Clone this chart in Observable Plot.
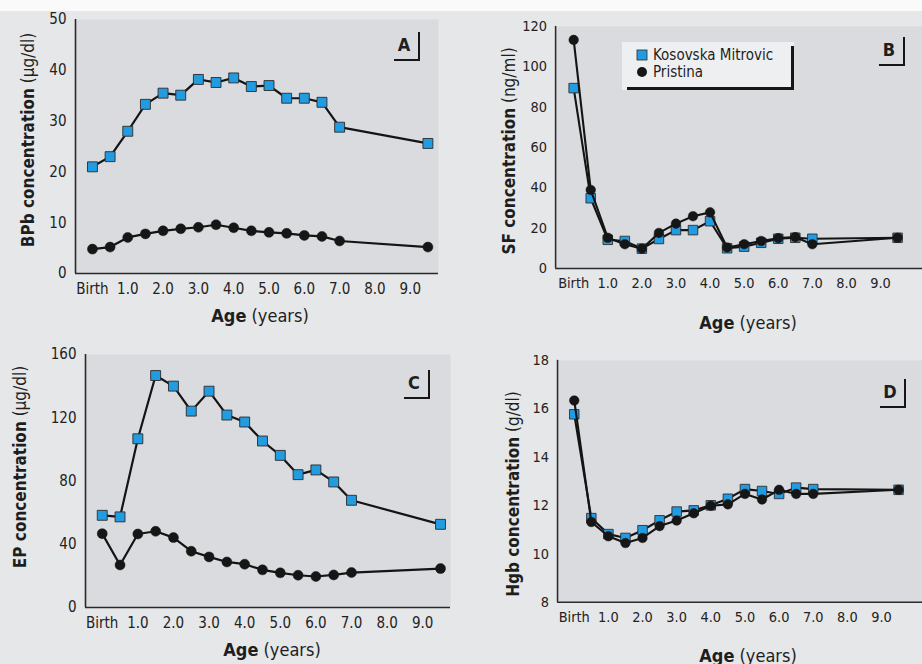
<!DOCTYPE html>
<html>
<head>
<meta charset="utf-8">
<script src="https://cdn.jsdelivr.net/npm/d3@7"></script>
<script src="https://cdn.jsdelivr.net/npm/@observablehq/plot@0.6"></script>
<style>
  body { margin: 0; background: #e7e8ea; }
  #page { position: relative; width: 922px; height: 664px; overflow: hidden; background: #e6e7e9;
          font-family: "Liberation Sans Narrow", "Arial Narrow", "DejaVu Sans Condensed", sans-serif; color: #1e1e1e; }
  .band { position: absolute; left: 0; top: 0; width: 922px; height: 11px; background: #fafafa; }
  .panel { position: absolute; }
  .ytitle { position: absolute; white-space: nowrap; font-size: 17px; transform: translate(-50%, -50%) rotate(-90deg); }
  .xtitle { position: absolute; white-space: nowrap; font-size: 18px; transform: translate(-50%, -50%); }
  .tag { position: absolute; border-right: 2.5px solid #161616; border-bottom: 2.5px solid #161616; box-sizing: border-box; }
  .tag span { position: absolute; font-weight: bold; font-size: 18px; transform: translate(-50%, -50%); }
  .legend { position: absolute; background: #eeeff0; }
  .legend .row { position: absolute; left: 12px; font-size: 15px; white-space: nowrap; display: flex; align-items: center; }
  .legend .bar-r { position: absolute; background: #161616; }
</style>
</head>
<body>
<div id="page"><div class="band"></div></div>
<script>
// ---------------- data ----------------
const ages = [0, 0.5, 1, 1.5, 2, 2.5, 3, 3.5, 4, 4.5, 5, 5.5, 6, 6.5, 7, 9.5];
const seriesNames = ["Kosovska Mitrovic", "Pristina"];
const xTickValues = [0, 1, 2, 3, 4, 5, 6, 7, 8, 9];
const xTickLabels = ["Birth", "1.0", "2.0", "3.0", "4.0", "5.0", "6.0", "7.0", "8.0", "9.0"];

const bpbKM = [21, 23, 28, 33.3, 35.5, 35.1, 38.2, 37.6, 38.5, 36.8, 37, 34.5, 34.5, 33.7, 28.8, 25.6];
const bpbPR = [4.8, 5.2, 7.1, 7.8, 8.4, 8.8, 9.1, 9.6, 9.0, 8.4, 8.1, 7.9, 7.5, 7.3, 6.4, 5.2];
const sfKM  = [89.4, 34.8, 14.2, 13.6, 9.8, 14.6, 19, 19, 23.4, 10, 10.8, 12.7, 14.7, 15.2, 14.7, 15.2];
const sfPR  = [113.3, 38.9, 15.2, 12, 9.8, 17.6, 22.2, 25.9, 27.8, 10.4, 12, 13.6, 15, 15.5, 12, 15.2];
const epKM  = [58.3, 57.3, 106.7, 146.7, 140, 124.2, 136.8, 121.7, 117.3, 105.3, 96.2, 84, 87, 79.4, 67.8, 52.6];
const epPR  = [46.7, 26.9, 46.5, 48.2, 44.2, 35.6, 32, 28.8, 27.4, 23.8, 21.9, 20.4, 19.6, 20.6, 22.1, 24.6];
const hgbKM = [15.77, 11.48, 10.82, 10.66, 10.98, 11.39, 11.75, 11.8, 12.01, 12.28, 12.68, 12.6, 12.48, 12.74, 12.68, 12.65];
const hgbPR = [16.34, 11.32, 10.73, 10.45, 10.66, 11.15, 11.38, 11.68, 11.99, 12.05, 12.48, 12.25, 12.65, 12.48, 12.48, 12.65];

const bpbTicks = [0, 10, 20, 30, 40, 50];
const sfTicks = [0, 20, 40, 60, 80, 100, 120];
const epTicks = [0, 40, 80, 120, 160];
const hgbTicks = [8, 10, 12, 14, 16, 18];

// ---------------- drawing ----------------
const page = document.getElementById("page");
const blue = "#229be0";
const font = '"Liberation Sans Narrow", "Arial Narrow", "DejaVu Sans Condensed", sans-serif';

function panel(cfg) {
  const km = ages.map((a, i) => ({age: a, v: cfg.km[i]}));
  const pr = ages.map((a, i) => ({age: a, v: cfg.pr[i]}));
  const [y0, y1] = [cfg.yTicks[0], cfg.yTicks[cfg.yTicks.length - 1]];
  const svg = Plot.plot({
    width: cfg.w, height: cfg.h,
    marginLeft: cfg.ml, marginRight: cfg.mr, marginTop: cfg.mt, marginBottom: cfg.mb,
    style: {background: "transparent", fontFamily: font, fontSize: "15px", color: "#222", overflow: "visible"},
    x: {domain: cfg.xd},
    y: {domain: [y0, y1]},
    marks: [
      Plot.frame({fill: "#dadbde", stroke: null}),
      Plot.axisX({ticks: xTickValues, tickFormat: (d, i) => xTickLabels[xTickValues.indexOf(d)], tickSize: 0, tickPadding: 10, label: null}),
      Plot.axisY({ticks: cfg.yTicks, tickSize: 0, tickPadding: 9, label: null}),
      Plot.ruleX([cfg.xd[0]], {stroke: "#2a2a2a", strokeWidth: 1.6}),
      Plot.ruleY([y0], {stroke: "#2a2a2a", strokeWidth: 1.6}),
      ...(cfg.prFirst ? [] : []),
      Plot.line(km, {x: "age", y: "v", stroke: "#141414", strokeWidth: 2.2}),
      Plot.dot(km, {x: "age", y: "v", symbol: "square", r: 5.6, fill: blue, stroke: "#2b2b2b", strokeWidth: 0.9}),
      Plot.line(pr, {x: "age", y: "v", stroke: "#141414", strokeWidth: 2.2}),
      Plot.dot(pr, {x: "age", y: "v", symbol: "circle", r: 5, fill: "#161616", stroke: "#161616", strokeWidth: 0.5})
    ]
  });
  const wrap = document.createElement("div");
  wrap.className = "panel";
  wrap.style.left = cfg.left + "px";
  wrap.style.top = cfg.top + "px";
  wrap.appendChild(svg);
  page.appendChild(wrap);

  const yt = document.createElement("div");
  yt.className = "ytitle";
  yt.style.left = cfg.yt[0] + "px"; yt.style.top = cfg.yt[1] + "px";
  yt.innerHTML = "<b>" + cfg.yTitleBold + "</b> " + cfg.yTitleUnit;
  page.appendChild(yt);

  const xt = document.createElement("div");
  xt.className = "xtitle";
  xt.style.left = cfg.xt[0] + "px"; xt.style.top = cfg.xt[1] + "px";
  xt.innerHTML = "<b>Age</b> (years)";
  page.appendChild(xt);

  const tag = document.createElement("div");
  tag.className = "tag";
  tag.style.left = cfg.tag[0] + "px"; tag.style.top = cfg.tag[1] + "px";
  tag.style.width = "26px"; tag.style.height = "29px";
  const s = document.createElement("span");
  s.textContent = cfg.letter;
  s.style.left = "10px"; s.style.top = "12px";
  tag.appendChild(s);
  page.appendChild(tag);
}

panel({letter: "A", km: bpbKM, pr: bpbPR, yTicks: bpbTicks,
  left: 0, top: 0, w: 461, h: 332, ml: 75, mr: 23, mt: 19, mb: 59, xd: [-0.48, 9.8],
  yTitleBold: "BPb concentration", yTitleUnit: "(µg/dl)", yt: [28, 140], xt: [260, 315], tag: [394, 32]});

panel({letter: "B", km: sfKM, pr: sfPR, yTicks: sfTicks,
  left: 461, top: 0, w: 480, h: 332, ml: 98, mr: 0, mt: 27, mb: 53, xd: [-0.53, 10.23],
  yTitleBold: "SF concentration", yTitleUnit: "(ng/ml)", yt: [509, 151], xt: [748, 322], tag: [879, 37]});

panel({letter: "C", km: epKM, pr: epPR, yTicks: epTicks,
  left: 0, top: 332, w: 461, h: 332, ml: 85, mr: 11, mt: 22, mb: 57, xd: [-0.47, 9.78],
  yTitleBold: "EP concentration", yTitleUnit: "(µg/dl)", yt: [20, 467], xt: [272, 649], tag: [404, 370]});

panel({letter: "D", km: hgbKM, pr: hgbPR, yTicks: hgbTicks,
  left: 461, top: 332, w: 480, h: 332, ml: 100, mr: 0, mt: 29, mb: 51, xd: [-0.49, 10.2],
  yTitleBold: "Hgb concentration", yTitleUnit: "(g/dl)", yt: [513, 494], xt: [748, 655], tag: [880, 379]});

// legend (panel B)
const lg = document.createElement("div");
lg.className = "legend";
lg.style.left = "622px"; lg.style.top = "42px"; lg.style.width = "172px"; lg.style.height = "48px";
lg.innerHTML =
  '<div class="bar-r" style="left:169px;top:4px;width:3px;height:44px"></div>' +
  '<div class="bar-r" style="left:5px;top:45px;width:167px;height:3px"></div>' +
  '<div class="row" style="top:4px"><svg width="16" height="16"><rect x="3" y="3" width="10" height="10" fill="' + blue + '" stroke="#2b2b2b" stroke-width="0.8"/></svg><span style="margin-left:3px">' + seriesNames[0] + '</span></div>' +
  '<div class="row" style="top:21px"><svg width="16" height="16"><circle cx="8" cy="8" r="5" fill="#161616"/></svg><span style="margin-left:3px">' + seriesNames[1] + '</span></div>';
page.appendChild(lg);
</script>
</body>
</html>
